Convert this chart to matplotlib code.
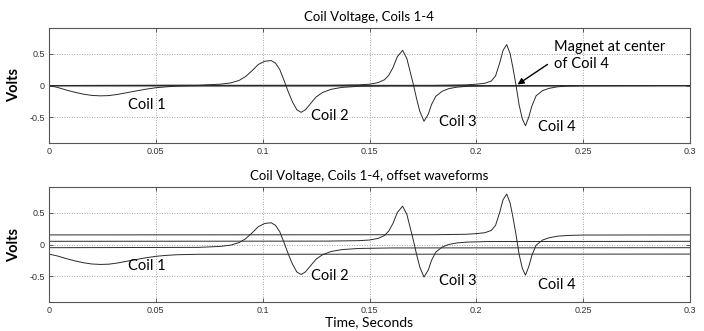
import matplotlib
matplotlib.use('Agg')
import matplotlib.pyplot as plt
import numpy as np

# Coil waveforms (time in s, volts)
coil1_t = [0, 0.004, 0.008, 0.012, 0.016, 0.020, 0.024, 0.028, 0.032, 0.036,
           0.040, 0.045, 0.050, 0.055, 0.060, 0.070, 0.3]
coil1_v = [0, -0.03, -0.07, -0.105, -0.135, -0.155, -0.162, -0.158, -0.14, -0.115,
           -0.09, -0.06, -0.035, -0.02, -0.01, -0.003, 0]

coil2_t = [0, 0.07, 0.08, 0.085, 0.089, 0.092, 0.095, 0.098, 0.101, 0.104, 0.106,
           0.108, 0.110, 0.112, 0.114, 0.116, 0.118, 0.120, 0.122, 0.125, 0.128,
           0.132, 0.137, 0.145, 0.16, 0.3]
coil2_v = [0, 0.005, 0.02, 0.04, 0.08, 0.14, 0.23, 0.33, 0.38, 0.39, 0.35,
           0.25, 0.08, -0.1, -0.26, -0.38, -0.42, -0.38, -0.3, -0.18, -0.11,
           -0.06, -0.03, -0.012, -0.004, 0]

coil3_t = [0, 0.13, 0.145, 0.15, 0.154, 0.157, 0.159, 0.161, 0.163, 0.1655, 0.1675,
           0.169, 0.1705, 0.172, 0.1735, 0.1755, 0.1775, 0.179, 0.181, 0.184, 0.187,
           0.191, 0.196, 0.205, 0.3]
coil3_v = [0, 0.003, 0.01, 0.02, 0.045, 0.09, 0.16, 0.28, 0.45, 0.55, 0.42,
           0.22, 0.02, -0.2, -0.4, -0.56, -0.45, -0.3, -0.17, -0.09, -0.05,
           -0.025, -0.012, -0.004, 0]

coil4_t = [0, 0.18, 0.195, 0.2, 0.204, 0.207, 0.209, 0.211, 0.2125, 0.2142, 0.2158,
           0.217, 0.2185, 0.22, 0.2215, 0.223, 0.2245, 0.226, 0.228, 0.231, 0.234,
           0.238, 0.243, 0.25, 0.3]
coil4_v = [0, 0.003, 0.01, 0.02, 0.035, 0.07, 0.15, 0.36, 0.55, 0.64, 0.5,
           0.3, 0.02, -0.3, -0.52, -0.63, -0.5, -0.32, -0.16, -0.08, -0.045,
           -0.02, -0.008, -0.002, 0]

offsets = [-0.15, -0.05, 0.05, 0.15]
coil_names = ['Coil 1', 'Coil 2', 'Coil 3', 'Coil 4']

# label positions (left edge t, centre v) in each panel
top_label_pos = [(0.0369, -0.30), (0.1228, -0.47), (0.1827, -0.575), (0.2287, -0.655)]
bot_label_pos = [(0.0369, -0.33), (0.1228, -0.49), (0.1827, -0.57), (0.2287, -0.635)]

xticks = [0, 0.05, 0.1, 0.15, 0.2, 0.25, 0.3]
xticklabels = ['0', '0.05', '0.1', '0.15', '0.2', '0.25', '0.3']
yticks = [-0.5, 0, 0.5]
yticklabels = ['-0.5', '0', '0.5']

coils = [(coil1_t, coil1_v), (coil2_t, coil2_v), (coil3_t, coil3_v), (coil4_t, coil4_v)]

TXT_FONT = ['Lato', 'DejaVu Sans']
TICK_FONT = ['Liberation Sans Narrow', 'Liberation Sans', 'DejaVu Sans']
LINE_COLOR = '#2a2a2a'

fig = plt.figure(figsize=(7.04, 3.31), dpi=100)
ax_top = fig.add_axes([49 / 704, 1 - 143 / 331, 641 / 704, 115 / 331])
ax_bot = fig.add_axes([49 / 704, 1 - 302 / 331, 641 / 704, 115 / 331])


def style_axis(ax, title):
    ax.set_xlim(0, 0.3)
    ax.set_ylim(-0.9, 0.9)
    ax.set_xticks(xticks)
    ax.set_xticklabels(xticklabels, family=TICK_FONT, fontsize=6.5, color='#333333')
    ax.set_yticks(yticks)
    ax.set_yticklabels(yticklabels, family=TICK_FONT, fontsize=6.5, color='#333333')
    ax.tick_params(direction='in', top=True, right=True, length=3, width=0.6,
                   color='#444444', pad=3)
    ax.grid(True, linestyle=(0, (1, 2)), color='#888888', linewidth=0.6)
    for sp in ax.spines.values():
        sp.set_color('#555555')
        sp.set_linewidth(0.8)
    ax.set_ylabel('Volts', family=TXT_FONT, fontsize=10.5, fontweight='bold',
                  labelpad=6)
    ax.set_title(title, family=TXT_FONT, fontsize=9.5, pad=5)


# top panel: raw waveforms
ax_top.axhline(0, color='#999999', linewidth=0.8, zorder=1)
for (t, v) in coils:
    ax_top.plot(t, v, color=LINE_COLOR, linewidth=0.7, zorder=2)
for name, (lx, ly) in zip(coil_names, top_label_pos):
    ax_top.text(lx, ly, name, family=TXT_FONT, fontsize=10.5, ha='left', va='center')
ax_top.text(0.2364, 0.47, 'Magnet at center\nof Coil 4', family=TXT_FONT,
            fontsize=10.5, ha='left', va='center', linespacing=1.25)
ax_top.annotate('', xy=(0.2193, 0.016), xytext=(0.2333, 0.33),
                arrowprops=dict(arrowstyle='-|>', color='black', lw=1.0,
                                shrinkA=0, shrinkB=0, mutation_scale=9))
style_axis(ax_top, 'Coil Voltage, Coils 1-4')

# bottom panel: offset waveforms
for (t, v), off in zip(coils, offsets):
    ax_bot.plot(t, np.array(v) + off, color=LINE_COLOR, linewidth=0.7, zorder=2)
for name, (lx, ly) in zip(coil_names, bot_label_pos):
    ax_bot.text(lx, ly, name, family=TXT_FONT, fontsize=10.5, ha='left', va='center')
style_axis(ax_bot, 'Coil Voltage, Coils 1-4, offset waveforms')
ax_bot.set_xlabel('Time, Seconds', family=TXT_FONT, fontsize=10, labelpad=1)

fig.savefig('out.png', dpi=100)
